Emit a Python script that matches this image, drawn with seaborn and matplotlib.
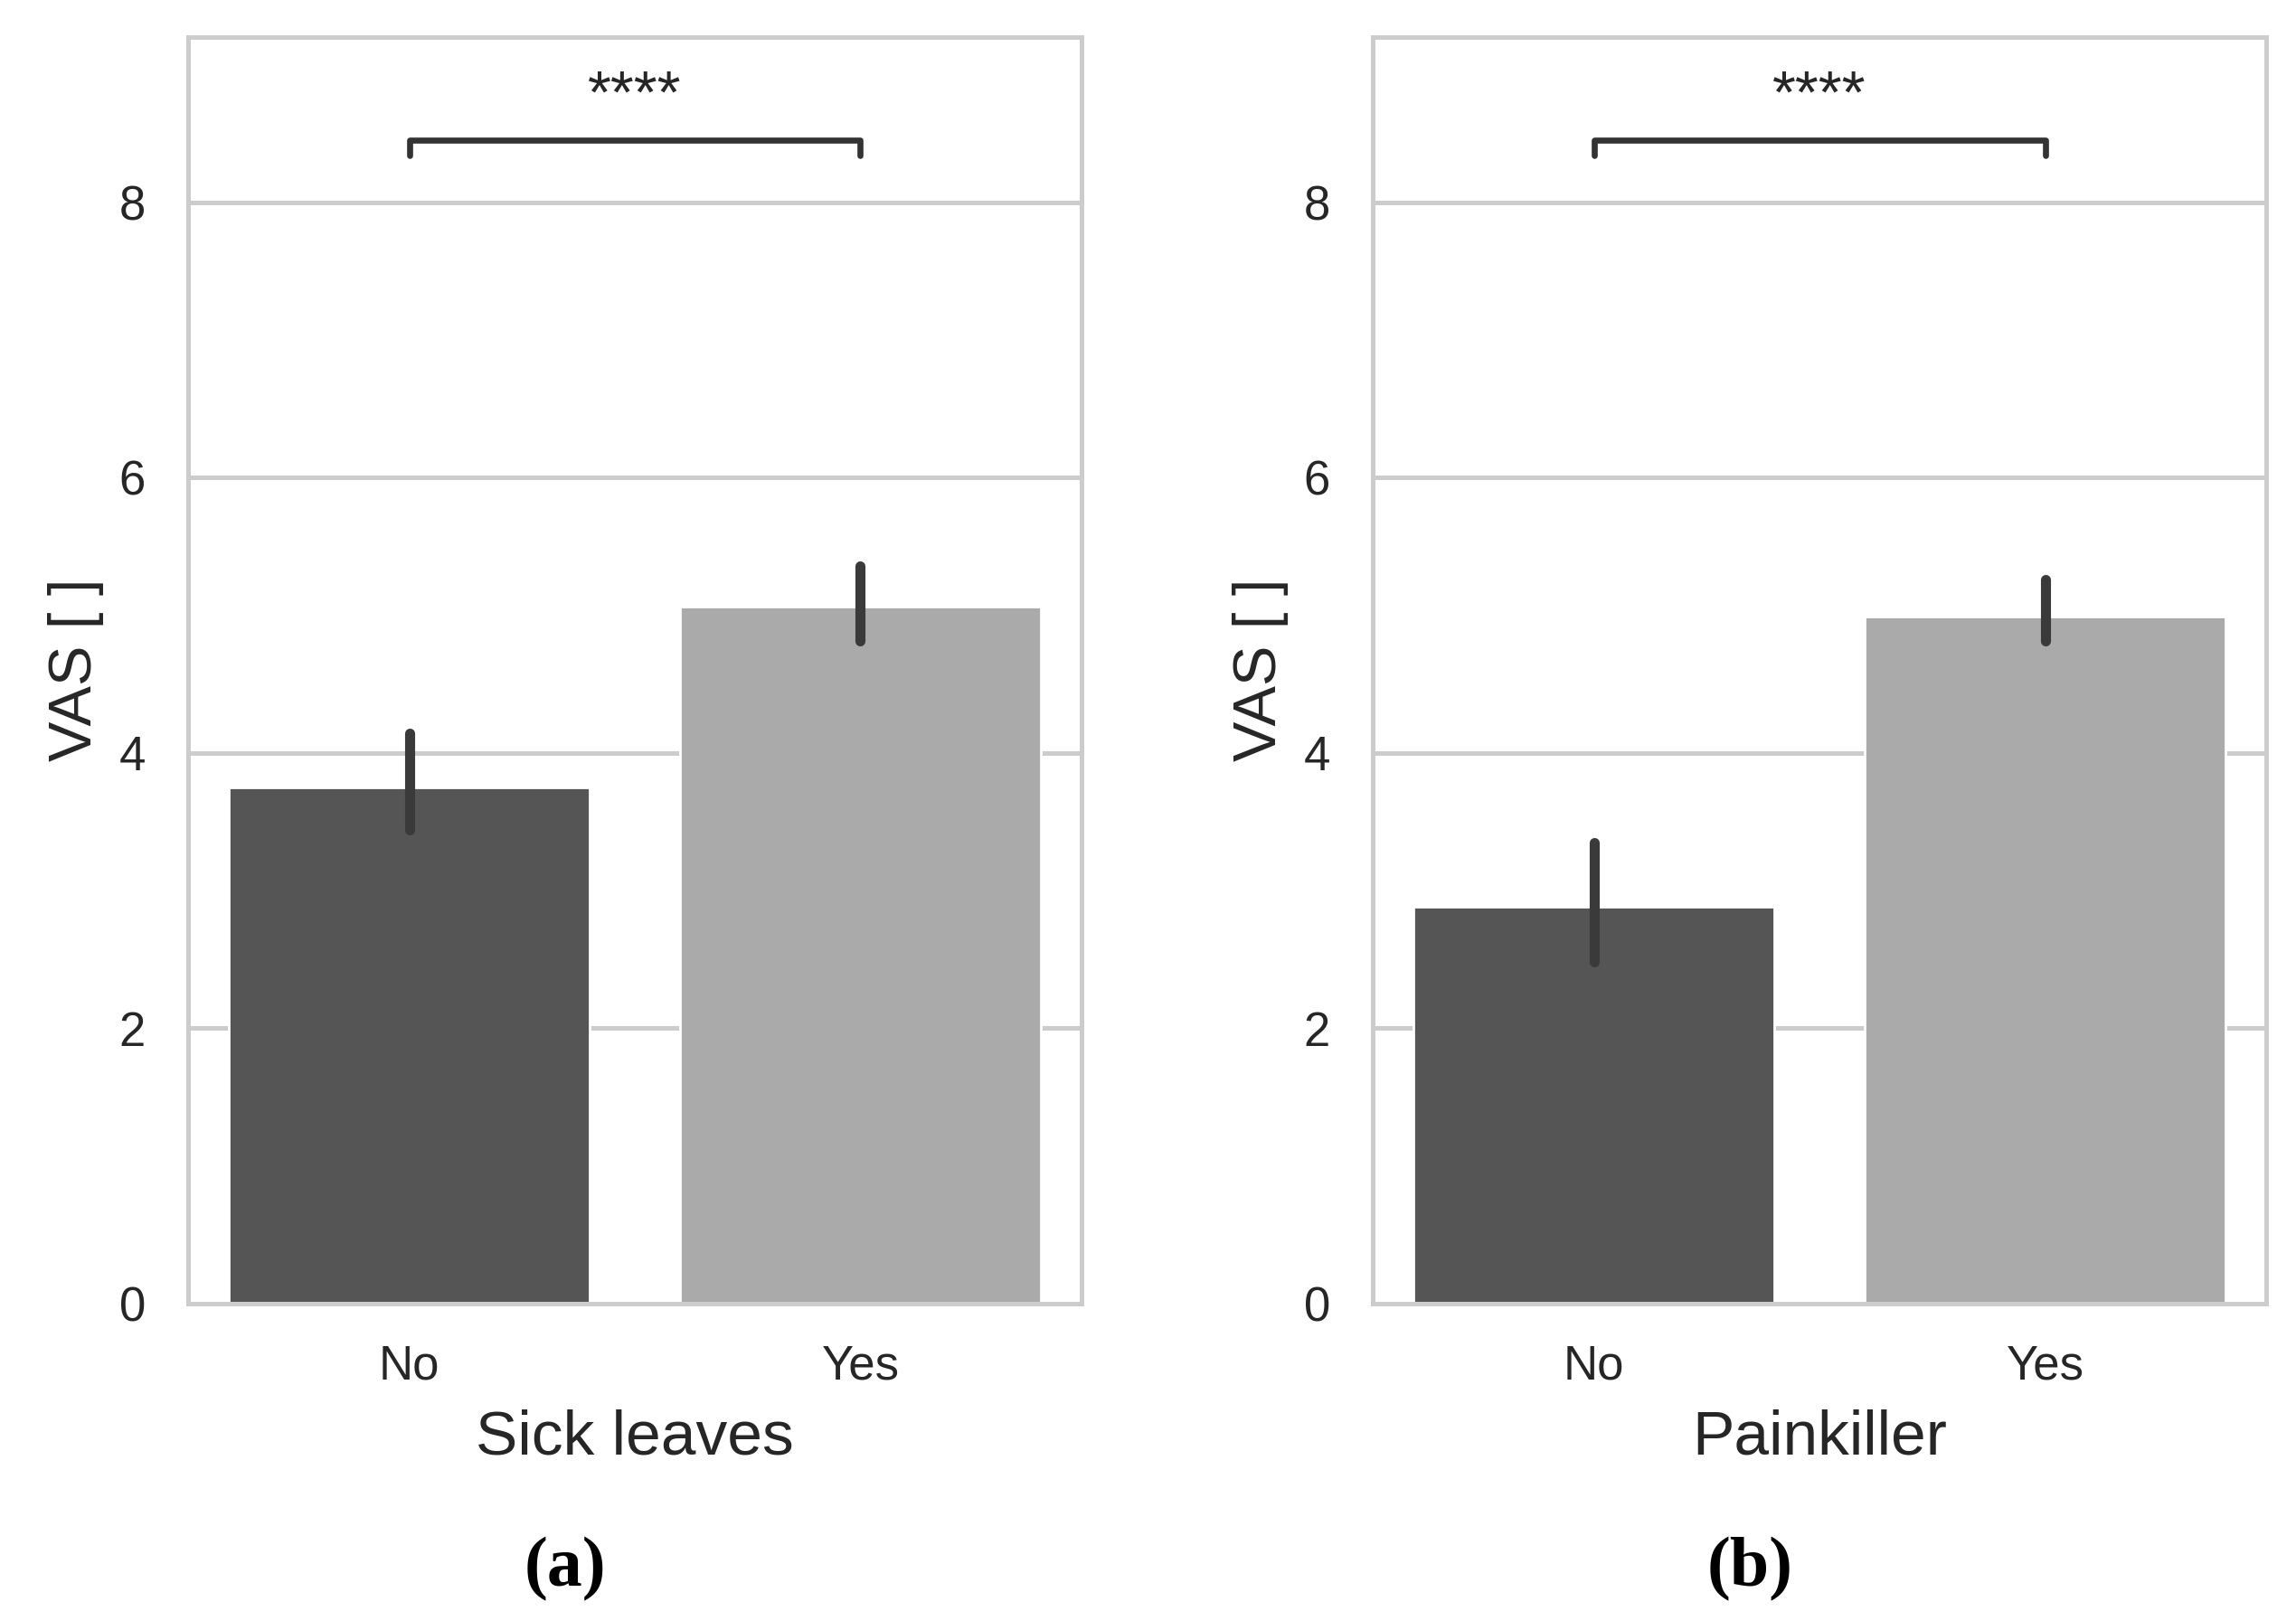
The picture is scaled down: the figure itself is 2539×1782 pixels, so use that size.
import numpy as np
import pandas as pd
import seaborn as sns
import matplotlib.pyplot as plt

# values (mean and error bar ends)
groups = ["No", "Yes"]
sick_mean = [3.75, 5.06]
sick_lo = [3.44, 4.81]
sick_hi = [4.14, 5.36]
pain_mean = [2.88, 4.99]
pain_lo = [2.48, 4.81]
pain_hi = [3.35, 5.26]
bar_colors = ["#555555", "#aaaaaa"]
stars = "****"
bracket_y = 8.45
bracket_tip = 8.34
star_y = 8.76


def long_table(mean, lo, hi):
    # three values per group: median gives the bar, min/max give the error bar
    rows = []
    for g, m, a, b in zip(groups, mean, lo, hi):
        for v in (a, m, b):
            rows.append({"group": g, "VAS": v})
    return pd.DataFrame(rows)


sns.set_theme(style="whitegrid")
plt.rcParams["font.family"] = ["Liberation Sans", "DejaVu Sans"]

fig = plt.figure(figsize=(12.695, 8.91), dpi=200)
ax1 = fig.add_axes([0.082, 0.191, 0.389, 0.786])
ax2 = fig.add_axes([0.598, 0.191, 0.389, 0.786])

panels = [
    (ax1, long_table(sick_mean, sick_lo, sick_hi), "Sick leaves", "(a)", 0.246),
    (ax2, long_table(pain_mean, pain_lo, pain_hi), "Painkiller", "(b)", 0.762),
]

for ax, df, xlab, tag, tag_x in panels:
    sns.barplot(data=df, x="group", y="VAS", hue="group", order=groups,
                hue_order=groups, palette=bar_colors, saturation=1,
                estimator="median", errorbar=lambda v: (v.min(), v.max()),
                err_kws={"linewidth": 4.0, "color": "#3a3a3a"},
                legend=False, width=0.8, ax=ax)
    ax.set_ylim(0, 9.2)
    ax.set_yticks([0, 2, 4, 6, 8])
    ax.grid(axis="y", color="#cccccc", linewidth=1.8)
    ax.grid(axis="x", visible=False)
    for sp in ax.spines.values():
        sp.set_color("#cccccc")
        sp.set_linewidth(1.8)
    ax.tick_params(axis="y", labelsize=19, pad=11)
    ax.tick_params(axis="x", labelsize=19, pad=10)
    ax.set_xlabel(xlab, fontsize=25, labelpad=8)
    ax.set_ylabel("VAS [ ]", fontsize=24, labelpad=6)

    # significance bracket
    ax.plot([0, 0, 1, 1], [bracket_tip, bracket_y, bracket_y, bracket_tip],
            color="#333333", linewidth=2.4, solid_capstyle="round")
    ax.text(0.5, star_y, stars, ha="center", va="center", fontsize=24,
            color="#262626")

    fig.text(tag_x, 0.026, tag, ha="center", va="center", fontsize=28,
             family=["Liberation Serif", "DejaVu Serif"], fontweight="bold",
             color="black")

fig.savefig("out.png", dpi=200)
